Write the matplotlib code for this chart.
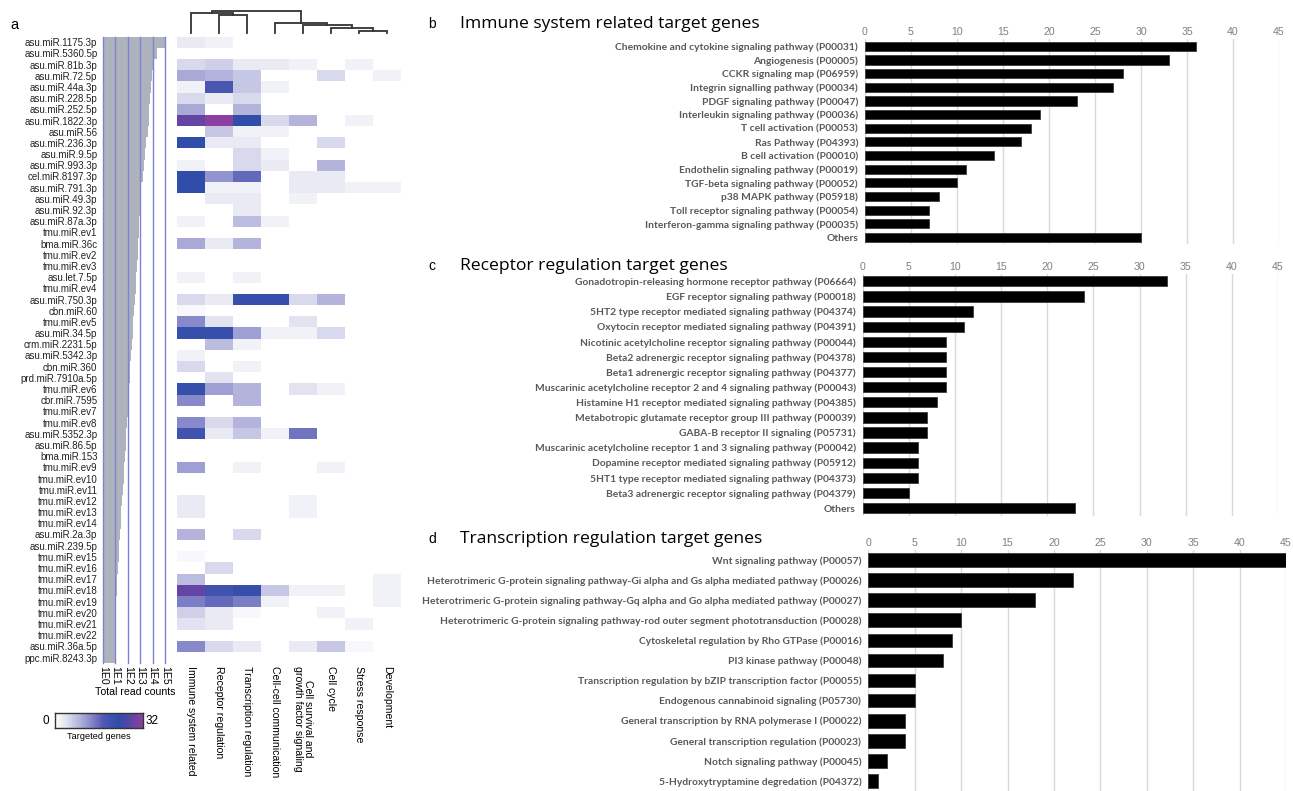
import matplotlib

matplotlib.use("Agg")
import matplotlib.pyplot as plt
import numpy as np
from matplotlib.colors import LinearSegmentedColormap

W, H = 1293, 791

# ---- panel a: miRNA read counts and targeted pathway categories ----
mirnas = [
    "asu.miR.1175.3p", "asu.miR.5360.5p", "asu.miR.81b.3p", "asu.miR.72.5p",
    "asu.miR.44a.3p", "asu.miR.228.5p", "asu.miR.252.5p", "asu.miR.1822.3p",
    "asu.miR.56", "asu.miR.236.3p", "asu.miR.9.5p", "asu.miR.993.3p",
    "cel.miR.8197.3p", "asu.miR.791.3p", "asu.miR.49.3p", "asu.miR.92.3p",
    "asu.miR.87a.3p", "tmu.miR.ev1", "bma.miR.36c", "tmu.miR.ev2",
    "tmu.miR.ev3", "asu.let.7.5p", "tmu.miR.ev4", "asu.miR.750.3p",
    "cbn.miR.60", "tmu.miR.ev5", "asu.miR.34.5p", "crm.miR.2231.5p",
    "asu.miR.5342.3p", "cbn.miR.360", "prd.miR.7910a.5p", "tmu.miR.ev6",
    "cbr.miR.7595", "tmu.miR.ev7", "tmu.miR.ev8", "asu.miR.5352.3p",
    "asu.miR.86.5p", "bma.miR.153", "tmu.miR.ev9", "tmu.miR.ev10",
    "tmu.miR.ev11", "tmu.miR.ev12", "tmu.miR.ev13", "tmu.miR.ev14",
    "asu.miR.2a.3p", "asu.miR.239.5p", "tmu.miR.ev15", "tmu.miR.ev16",
    "tmu.miR.ev17", "tmu.miR.ev18", "tmu.miR.ev19", "tmu.miR.ev20",
    "tmu.miR.ev21", "tmu.miR.ev22", "asu.miR.36a.5p", "ppc.miR.8243.3p",
]

# log10 of total read counts per miRNA
log_reads = [
    5.0, 4.35, 4.1, 3.95, 3.87, 3.8, 3.74, 3.68, 3.6, 3.5, 3.4, 3.3, 3.2, 3.1,
    3.04, 2.98, 2.93, 2.9, 2.86, 2.8, 2.75, 2.7, 2.64, 2.58, 2.5, 2.45, 2.4,
    2.32, 2.26, 2.2, 2.15, 2.1, 2.05, 2.0, 1.95, 1.88, 1.83, 1.78, 1.72, 1.66,
    1.6, 1.54, 1.48, 1.43, 1.38, 1.33, 1.28, 1.2, 1.15, 1.12, 1.08, 1.05,
    1.02, 1.0, 1.0, 1.0,
]

categories = [
    "Immune system related", "Receptor regulation", "Transcription regulation",
    "Cell-cell communication", "Cell survival and\ngrowth factor signaling",
    "Cell cycle", "Stress response", "Development",
]

# number of targeted genes, one row per miRNA, one column per category
targeted = [
    [3, 2, 0, 0, 0, 0, 0, 0],
    [0, 0, 0, 0, 0, 0, 0, 0],
    [5, 6, 3, 3, 2, 0, 2, 0],
    [10, 9, 7, 0, 0, 5, 0, 2],
    [2, 19, 7, 2, 0, 0, 0, 0],
    [5, 3, 5, 0, 0, 0, 0, 0],
    [10, 0, 9, 0, 0, 0, 0, 0],
    [28, 32, 23, 5, 9, 0, 2, 0],
    [0, 7, 2, 2, 0, 0, 0, 0],
    [23, 3, 3, 0, 0, 5, 0, 0],
    [0, 0, 5, 2, 0, 0, 0, 0],
    [2, 0, 5, 3, 0, 9, 0, 0],
    [23, 12, 16, 0, 3, 3, 0, 0],
    [23, 2, 2, 0, 3, 3, 2, 2],
    [0, 3, 3, 0, 2, 0, 0, 0],
    [0, 0, 3, 0, 0, 0, 0, 0],
    [2, 0, 8, 2, 0, 0, 0, 0],
    [0, 0, 0, 0, 0, 0, 0, 0],
    [10, 3, 9, 0, 0, 0, 0, 0],
    [0, 0, 0, 0, 0, 0, 0, 0],
    [0, 0, 0, 0, 0, 0, 0, 0],
    [2, 0, 2, 0, 0, 0, 0, 0],
    [0, 0, 0, 0, 0, 0, 0, 0],
    [5, 3, 22, 22, 5, 9, 0, 0],
    [1, 0, 0, 0, 0, 0, 0, 0],
    [13, 4, 0, 0, 4, 0, 0, 0],
    [22, 22, 11, 2, 2, 5, 0, 0],
    [0, 8, 2, 0, 0, 0, 0, 0],
    [2, 0, 0, 0, 0, 0, 0, 0],
    [5, 0, 2, 0, 0, 0, 0, 0],
    [0, 4, 0, 0, 0, 0, 0, 0],
    [22, 11, 9, 0, 4, 2, 0, 0],
    [13, 0, 9, 0, 0, 0, 0, 0],
    [0, 0, 0, 0, 0, 0, 0, 0],
    [13, 5, 9, 0, 0, 0, 0, 0],
    [20, 3, 7, 2, 15, 0, 0, 0],
    [0, 0, 0, 0, 0, 0, 0, 0],
    [0, 0, 0, 0, 0, 0, 0, 0],
    [11, 0, 2, 0, 0, 2, 0, 0],
    [0, 0, 0, 0, 0, 0, 0, 0],
    [0, 0, 0, 0, 0, 0, 0, 0],
    [3, 0, 0, 0, 2, 0, 0, 0],
    [3, 0, 0, 0, 2, 0, 0, 0],
    [0, 0, 0, 0, 0, 0, 0, 0],
    [9, 0, 5, 0, 0, 0, 0, 0],
    [0, 0, 0, 0, 0, 0, 0, 0],
    [1, 0, 0, 0, 0, 0, 0, 0],
    [0, 5, 0, 0, 0, 0, 0, 0],
    [8, 0, 0, 0, 0, 0, 0, 2],
    [28, 20, 22, 7, 2, 2, 0, 2],
    [14, 16, 14, 2, 0, 0, 0, 2],
    [6, 3, 1, 0, 0, 2, 0, 0],
    [4, 3, 0, 0, 0, 0, 2, 0],
    [0, 0, 0, 0, 0, 0, 0, 0],
    [13, 5, 3, 0, 3, 7, 1, 0],
    [0, 0, 0, 0, 0, 0, 0, 0],
]

# category clustering: (left, right, height); leaves 0..7, merges numbered from 8
category_merges = [
    (6, 7, 2.0), (5, 8, 4.4), (4, 9, 7.2), (3, 10, 10.0),
    (1, 2, 17.0), (0, 12, 19.4), (13, 11, 21.7),
]

# ---- panels b-d: pathway counts ----
immune_labels = [
    "Chemokine and cytokine signaling pathway (P00031)", "Angiogenesis (P00005)",
    "CCKR signaling map (P06959)", "Integrin signalling pathway (P00034)",
    "PDGF signaling pathway (P00047)", "Interleukin signaling pathway (P00036)",
    "T cell activation (P00053)", "Ras Pathway (P04393)",
    "B cell activation (P00010)", "Endothelin signaling pathway (P00019)",
    "TGF-beta signaling pathway (P00052)", "p38 MAPK pathway (P05918)",
    "Toll receptor signaling pathway (P00054)",
    "Interferon-gamma signaling pathway (P00035)", "Others",
]
immune_counts = [36, 33, 28, 27, 23, 19, 18, 17, 14, 11, 10, 8, 7, 7, 30]

receptor_labels = [
    "Gonadotropin-releasing hormone receptor pathway (P06664)",
    "EGF receptor signaling pathway (P00018)",
    "5HT2 type receptor mediated signaling pathway (P04374)",
    "Oxytocin receptor mediated signaling pathway (P04391)",
    "Nicotinic acetylcholine receptor signaling pathway (P00044)",
    "Beta2 adrenergic receptor signaling pathway (P04378)",
    "Beta1 adrenergic receptor signaling pathway (P04377)",
    "Muscarinic acetylcholine receptor 2 and 4 signaling pathway (P00043)",
    "Histamine H1 receptor mediated signaling pathway (P04385)",
    "Metabotropic glutamate receptor group III pathway (P00039)",
    "GABA-B receptor II signaling (P05731)",
    "Muscarinic acetylcholine receptor 1 and 3 signaling pathway (P00042)",
    "Dopamine receptor mediated signaling pathway (P05912)",
    "5HT1 type receptor mediated signaling pathway (P04373)",
    "Beta3 adrenergic receptor signaling pathway (P04379)", "Others",
]
receptor_counts = [33, 24, 12, 11, 9, 9, 9, 9, 8, 7, 7, 6, 6, 6, 5, 23]

transcription_labels = [
    "Wnt signaling pathway (P00057)",
    "Heterotrimeric G-protein signaling pathway-Gi alpha and Gs alpha mediated pathway (P00026)",
    "Heterotrimeric G-protein signaling pathway-Gq alpha and Go alpha mediated pathway (P00027)",
    "Heterotrimeric G-protein signaling pathway-rod outer segment phototransduction (P00028)",
    "Cytoskeletal regulation by Rho GTPase (P00016)",
    "PI3 kinase pathway (P00048)",
    "Transcription regulation by bZIP transcription factor (P00055)",
    "Endogenous cannabinoid signaling (P05730)",
    "General transcription by RNA polymerase I (P00022)",
    "General transcription regulation (P00023)",
    "Notch signaling pathway (P00045)",
    "5-Hydroxytryptamine degredation (P04372)",
]
transcription_counts = [45, 22, 18, 10, 9, 8, 5, 5, 4, 4, 2, 1]

SANS = ["Liberation Sans", "DejaVu Sans"]
plt.rcParams["font.family"] = SANS

fig = plt.figure(figsize=(W / 100, H / 100), dpi=100)


def box(x0, y0, x1, y1):
    """Pixel box (top-left origin) -> figure rect."""
    return [x0 / W, 1 - y1 / H, (x1 - x0) / W, (y1 - y0) / H]


def strip(ax):
    for s in ax.spines.values():
        s.set_visible(False)
    ax.tick_params(length=0)


target_cmap = LinearSegmentedColormap.from_list(
    "targets",
    [(0.0, "#FFFFFF"), (0.12, "#E4E4F2"), (0.33, "#A4A4D6"),
     (0.55, "#5158B4"), (0.72, "#2F4DA9"), (1.0, "#8C3FA0")],
)

n_rows = len(mirnas)
row_top, row_bot = 36.6, 663.1

# total read counts (log scale)
ax_r = fig.add_axes(box(103, row_top, 165, row_bot))
reads = 10 ** np.array(log_reads)
ax_r.barh(np.arange(n_rows), reads - 1, left=1, height=1.0,
          color="#AEB2BD", edgecolor="none", clip_on=False)
ax_r.set_xscale("log")
ax_r.set_xlim(1, 1e5)
ax_r.set_ylim(n_rows - 0.5, -0.5)
for k in range(6):
    ax_r.axvline(10 ** k, color="#7E82D6", lw=1.0, clip_on=False, zorder=3)
ax_r.set_yticks(np.arange(n_rows))
ax_r.set_yticklabels(mirnas, fontsize=7.0, color="#222222")
ax_r.tick_params(axis="y", pad=4)
ax_r.set_xticks([10 ** k for k in range(6)])
ax_r.set_xticklabels([f"1E{k}" for k in range(6)], rotation=-90, fontsize=7.6,
                     va="top", ha="center")
ax_r.xaxis.set_minor_locator(matplotlib.ticker.NullLocator())
ax_r.tick_params(axis="x", pad=2)
strip(ax_r)
fig.text(135 / W, 1 - 692 / H, "Total read counts", ha="center", va="center",
         fontsize=7.6)

# heatmap of targeted genes
ax_h = fig.add_axes(box(177.3, row_top, 400.7, row_bot))
ax_h.pcolormesh(np.array(targeted), cmap=target_cmap, vmin=0, vmax=32,
                shading="flat", edgecolors="none")
ax_h.set_xlim(0, len(categories))
ax_h.set_ylim(n_rows, 0)
ax_h.set_yticks([])
ax_h.set_xticks(np.arange(len(categories)) + 0.5)
ax_h.set_xticklabels(categories, rotation=-90, fontsize=7.6, va="top",
                     ha="center", linespacing=1.05)
ax_h.tick_params(axis="x", pad=2)
strip(ax_h)

# category dendrogram
ax_d = fig.add_axes(box(177.3, 10.7, 400.7, 32.7))
pos = {i: (i + 0.5, 0.0) for i in range(len(categories))}
for idx, (a, b, h) in enumerate(category_merges):
    xa, ha_ = pos[a]
    xb, hb = pos[b]
    ax_d.plot([xa, xa, xb, xb], [ha_, h, h, hb], color="#333333", lw=1.3,
              solid_joinstyle="miter", clip_on=False)
    pos[len(categories) + idx] = ((xa + xb) / 2, h)
ax_d.set_xlim(0, len(categories))
ax_d.set_ylim(0, 21.7)
ax_d.axis("off")

# colour key
ax_c = fig.add_axes(box(55, 713, 142.7, 728))
ax_c.imshow(np.linspace(0, 32, 256)[None, :], aspect="auto", cmap=target_cmap,
            extent=[0, 32, 0, 1])
ax_c.set_xticks([])
ax_c.set_yticks([])
for s in ax_c.spines.values():
    s.set_color("#333333")
    s.set_linewidth(1.0)
ax_c.text(-0.07, 0.5, "0", transform=ax_c.transAxes, ha="right", va="center",
          fontsize=8.5)
ax_c.text(1.03, 0.5, "32", transform=ax_c.transAxes, ha="left", va="center",
          fontsize=8.5)
ax_c.text(0.5, -0.55, "Targeted genes", transform=ax_c.transAxes, ha="center",
          va="center", fontsize=6.6)

fig.text(10 / W, 1 - 25 / H, "a", fontsize=10.5, ha="left", va="center")


def pathway_panel(rect, labels, counts, letter, title, baseline):
    ax = fig.add_axes(box(*rect))
    n = len(labels)
    ax.barh(np.arange(n), counts, height=0.68, color="black",
            edgecolor="#3A3A3A", lw=0.6, zorder=3)
    ax.set_xlim(0, 45)
    ax.set_ylim(n - 0.5, -0.5)
    ax.xaxis.tick_top()
    ax.set_xticks(range(0, 46, 5))
    ax.tick_params(axis="x", labelsize=7.6, labelcolor="#7F7F7F", pad=1.5)
    ax.set_yticks(np.arange(n))
    ax.set_yticklabels(labels, fontsize=7.4, color="#595959",
                       fontfamily="Lato", fontweight="bold")
    ax.tick_params(axis="y", pad=5)
    ax.grid(axis="x", color="#D9D9D9", lw=1.0, zorder=0)
    ax.set_axisbelow(True)
    strip(ax)
    fig.text(428 / W, 1 - baseline / H, letter, fontsize=10, ha="left",
             va="baseline")
    fig.text(460 / W, 1 - baseline / H, title, fontsize=12.6, ha="left",
             va="baseline", fontfamily="Open Sans")
    return ax


pathway_panel((865, 39.4, 1279, 244.3), immune_labels, immune_counts, "b",
              "Immune system related target genes", 28.5)
pathway_panel((862.7, 273.8, 1278, 515.6), receptor_labels, receptor_counts, "c",
              "Receptor regulation target genes", 270)
pathway_panel((868.3, 550, 1286, 791), transcription_labels,
              transcription_counts, "d", "Transcription regulation target genes",
              543)

fig.savefig("out.png", dpi=100)
